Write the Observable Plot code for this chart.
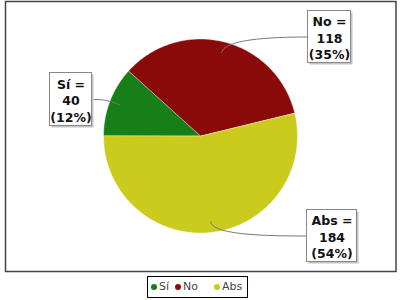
<!DOCTYPE html>
<html>
<head>
<meta charset="utf-8">
<script src="https://cdn.jsdelivr.net/npm/d3@7"></script>
<script src="https://cdn.jsdelivr.net/npm/@observablehq/plot@0.6"></script>
<style>
  html, body { margin: 0; padding: 0; background: #fff; }
  #wrap { position: relative; width: 400px; height: 300px; font-family: "DejaVu Sans", sans-serif; }
  #legendBox { position: absolute; box-sizing: border-box; border: 1px solid #000; background: #fff; }
  .ldot { position: absolute; border-radius: 50%; }
  .ltxt { position: absolute; font-size: 11px; color: #444; line-height: 1; white-space: nowrap; }
</style>
</head>
<body>
<div id="wrap"></div>
<script>
// ---- data ----
const categories = ["Sí", "No", "Abs"];
const votes = [40, 118, 184];
const percents = [12, 35, 54];
const colors = ["#177f17", "#8a0a0a", "#cbcb1d"];

// ---- layout (pixels) ----
const W = 400, H = 272, CX = 200, CY = 135.5, R = 97;
const boxes = { "Sí": [49.5, 72.5, 42, 53], "No": [307.5, 10.5, 43, 52], "Abs": [306.5, 209.5, 50, 52] };
const legendBox = [147, 276, 101, 22];
const legendDotX = [153.7, 177.5, 216.5];
const legendTextX = [159, 183, 222];
const legendMidY = 287;

const toX = px => (px - CX) / R;
const toY = py => (CY - py) / R;

// pie angles (clockwise from 12 o'clock), first slice starts at 9 o'clock
const arcs = d3.pie().sort(null).startAngle(1.5 * Math.PI).endAngle(3.5 * Math.PI)(votes);

const slices = [];
const leaders = [];
const labels = [];
arcs.forEach((a, i) => {
  const cat = categories[i];
  slices.push({ cat, x: 0, y: 0 });
  const n = Math.max(2, Math.ceil((a.endAngle - a.startAngle) / (Math.PI / 180)));
  for (let k = 0; k <= n; k++) {
    const t = a.startAngle + (a.endAngle - a.startAngle) * k / n;
    slices.push({ cat, x: Math.sin(t), y: Math.cos(t) });
  }
  const [l, t, w, h] = boxes[cat];
  const mid = (a.startAngle + a.endAngle) / 2;
  const p0 = [0.89 * Math.sin(mid), 0.89 * Math.cos(mid)];
  const p1 = [1.02 * Math.sin(mid), 1.02 * Math.cos(mid)];
  const leftSide = (l + w / 2) < CX;
  const ex = leftSide ? l + w : l, ey = t + h / 2;
  const p0px = CX + p0[0] * R;
  const p3 = [toX(ex), toY(ey)];
  const p2 = [toX(ex + (p0px - ex) * 0.5), toY(ey)];
  for (let k = 0; k <= 30; k++) {
    const s = k / 30, u = 1 - s;
    leaders.push({
      cat,
      x: u*u*u*p0[0] + 3*u*u*s*p1[0] + 3*u*s*s*p2[0] + s*s*s*p3[0],
      y: u*u*u*p0[1] + 3*u*u*s*p1[1] + 3*u*s*s*p2[1] + s*s*s*p3[1]
    });
  }
  labels.push({
    cat,
    x1: toX(l), x2: toX(l + w), y1: toY(t), y2: toY(t + h),
    cx: toX(l + w / 2), cy: toY(t + h / 2 + 0.5),
    text: `${cat} =\n${votes[i]}\n(${percents[i]}%)`
  });
});

const chart = Plot.plot({
  width: W,
  height: H,
  margin: 0,
  x: { domain: [toX(0), toX(W)], axis: null },
  y: { domain: [toY(H), toY(0)], axis: null },
  color: { domain: categories, range: colors },
  style: { background: "white", overflow: "visible" },
  marks: [
    Plot.frame({ stroke: "#444", strokeWidth: 1.5, insetLeft: 5, insetTop: 1, insetRight: 4.5, insetBottom: 1 }),
    Plot.line(slices, { x: "x", y: "y", z: "cat", fill: "cat", stroke: "white", strokeWidth: 0.8, strokeOpacity: 0.5, curve: "linear-closed" }),
    Plot.line(leaders, { x: "x", y: "y", z: "cat", stroke: "#777", strokeWidth: 1, curve: "linear" }),
    Plot.rect(labels, { x1: "x1", x2: "x2", y1: "y1", y2: "y2", fill: "#c4c4c4", dx: 2, dy: 2 }),
    Plot.rect(labels, { x1: "x1", x2: "x2", y1: "y1", y2: "y2", fill: "white", stroke: "#888", strokeWidth: 1 }),
    Plot.text(labels, { x: "cx", y: "cy", text: "text", fontSize: 12.5, fontWeight: "bold", lineHeight: 1.32, fill: "#111", fontFamily: "DejaVu Sans" })
  ]
});

const wrap = document.getElementById("wrap");
wrap.appendChild(chart);

// legend
const lb = document.createElement("div");
lb.id = "legendBox";
Object.assign(lb.style, { left: legendBox[0] + "px", top: legendBox[1] + "px", width: legendBox[2] + "px", height: legendBox[3] + "px" });
wrap.appendChild(lb);
categories.forEach((c, i) => {
  const d = document.createElement("div");
  d.className = "ldot";
  Object.assign(d.style, { left: (legendDotX[i] - 3) + "px", top: (legendMidY - 3) + "px", width: "6px", height: "6px", background: colors[i] });
  wrap.appendChild(d);
  const tx = document.createElement("div");
  tx.className = "ltxt";
  tx.textContent = c;
  Object.assign(tx.style, { left: legendTextX[i] + "px", top: (legendMidY - 6) + "px" });
  wrap.appendChild(tx);
});
</script>
</body>
</html>
